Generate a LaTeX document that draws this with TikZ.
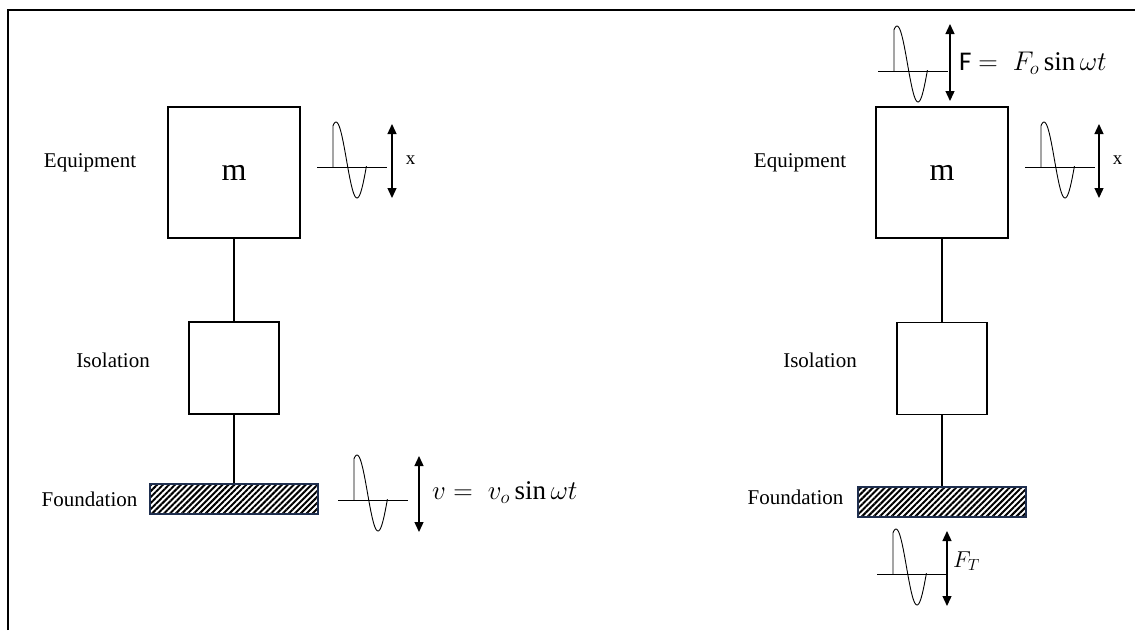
\RequirePackage{fix-cm}
\documentclass[tikz,border=0pt]{standalone}
\usepackage{fontspec}
\setmainfont{Liberation Serif}
\newfontfamily\calibri{Carlito}
\usetikzlibrary{arrows.meta,patterns.meta}
\definecolor{navy}{HTML}{1F2F4F}
\begin{document}
\begin{tikzpicture}[x=1pt,y=-1pt,
  massbox/.style={draw,line width=1.8pt,minimum width=132pt,minimum height=131pt,inner sep=0pt,font=\fontsize{32}{36}\selectfont},
  isobox/.style={draw,line width=1.8pt,minimum width=90pt,minimum height=92pt,inner sep=0pt},
  found/.style={draw=navy,line width=1.3pt,minimum width=168pt,minimum height=30pt,inner sep=0pt,
    pattern={Lines[angle=45,distance=4.2pt,line width=2pt]}},
  conn/.style={line width=1.8pt},
  wv/.style={line width=0.9pt},
  dbl/.style={line width=1.3pt,{Triangle[width=9pt,length=10pt]}-{Triangle[width=9pt,length=10pt]}},
  lbl/.style={inner sep=0pt,font=\fontsize{21}{25}\selectfont},
  xl/.style={inner sep=0pt,font=\fontsize{19}{22}\selectfont},
  eq/.style={inner sep=0pt,anchor=west,font=\fontsize{27}{31}\selectfont},
  eqs/.style={inner sep=0pt,anchor=west,font=\fontsize{23}{27}\selectfont},
  wave/.pic={
    \draw[wv] (0,0) -- (70,0);
    \draw[wv] (16,0) -- (16,{-7-38*cos(-3/42*360)})
      plot[domain=16:49.4,samples=60,smooth] (\x,{-7-38*cos((\x-19)/42*360)});
  }]
\useasboundingbox (0,0) rectangle (1135,630);
% frame
\draw[line width=2pt] (8,630) -- (8,10) -- (1135,10);

% ---------- left system ----------
\node[massbox] (m1) at (234,172.5) {m};
\node[isobox] (i1) at (234,368) {};
\node[found] (f1) at (234,499) {};
\draw[conn] (m1.south) -- (i1.north);
\draw[conn] (i1.south) -- (f1.north);
\node[lbl] (eq1) at (90,163) {Equipment};
\node[lbl] (is1) at (113,360) {Isolation};
\node[lbl] (fo1) at (89.5,499) {Foundation};

\pic at (317,167) {wave};
\coordinate (xa1t) at (392,124);
\coordinate (xa1b) at (392,198);
\draw[dbl] (xa1t) -- (xa1b);
\node[xl] (xl1) at (410.5,160) {x};

\pic at (338,500) {wave};
\coordinate (va1t) at (419,456);
\coordinate (va1b) at (419,532);
\draw[dbl] (va1t) -- (va1b);
\node[eq] (vl) at (432,493) {$v =\; v_o \sin\omega t$};

% ---------- right system ----------
\node[massbox] (m2) at (942,172.5) {m};
\node[isobox] (i2) at (942,368.5) {};
\node[found] (f2) at (942,502) {};
\draw[conn] (m2.south) -- (i2.north);
\draw[conn] (i2.south) -- (f2.north);
\node[lbl] (eq2) at (800,163) {Equipment};
\node[lbl] (is2) at (820,360) {Isolation};
\node[lbl] (fo2) at (795.5,497) {Foundation};

\pic at (878,71) {wave};
\coordinate (fa2t) at (950,24);
\coordinate (fa2b) at (950,101);
\draw[dbl] (fa2t) -- (fa2b);
\node[eq] (fl) at (959,63) {{\calibri F} $=\; F_o \sin\omega t$};

\pic at (1025,167) {wave};
\coordinate (xa2t) at (1099,124);
\coordinate (xa2b) at (1099,198);
\draw[dbl] (xa2t) -- (xa2b);
\node[xl] (xl2) at (1117.5,160) {x};

\pic at (877,574) {wave};
\coordinate (ta2t) at (947,531);
\coordinate (ta2b) at (947,606);
\draw[dbl] (ta2t) -- (ta2b);
\node[eqs] (ftl) at (953,561) {$F_T$};
\end{tikzpicture}
\end{document}
